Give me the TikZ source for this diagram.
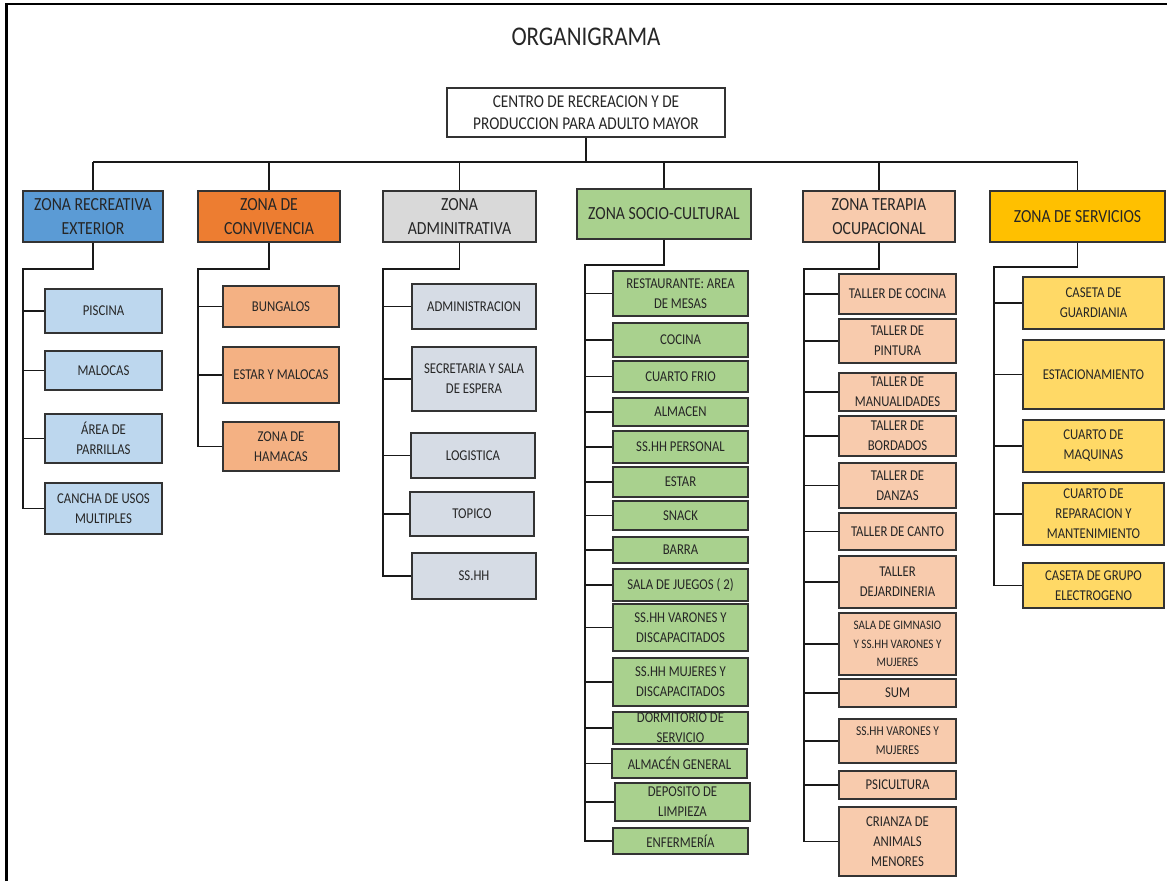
\documentclass[tikz,border=0pt]{standalone}
\usepackage{fontspec}
\setmainfont{Carlito}[FakeStretch=0.85]
\definecolor{azul}{HTML}{5B9BD5}
\definecolor{azulc}{HTML}{BDD7EE}
\definecolor{naranja}{HTML}{ED7D31}
\definecolor{naranjac}{HTML}{F4B183}
\definecolor{gris}{HTML}{D9D9D9}
\definecolor{grisc}{HTML}{D6DCE5}
\definecolor{verde}{HTML}{A9D18E}
\definecolor{salmon}{HTML}{F8CBAD}
\definecolor{oro}{HTML}{FFC000}
\definecolor{oroc}{HTML}{FFD966}
\newcommand{\letra}[2]{\fontsize{#1}{#2}\selectfont}

\tikzset{bx/.style={draw=black!80, line width=1.3pt, align=center, inner sep=1pt, text=black!85, font=\letra{15}{20}}}
\tikzset{zn/.style={bx, minimum height=51, font=\letra{18.5}{24}}}
\tikzset{ln/.style={line width=1.2pt, black!90}}

\begin{document}
\begin{tikzpicture}[x=1pt, y=-1pt]
\tikzstyle{c1}=[bx, fill=azulc, minimum width=117]
\tikzstyle{c2}=[bx, fill=naranjac, minimum width=116]
\tikzstyle{c3}=[bx, fill=grisc, minimum width=124]
\tikzstyle{c4}=[bx, fill=verde, minimum width=135]
\tikzstyle{c5}=[bx, fill=salmon, minimum width=117]
\tikzstyle{c6}=[bx, fill=oroc, minimum width=141]
\useasboundingbox (0,0) rectangle (1167,881);
\draw[line width=2.2pt] (6.5,881) -- (6.5,4) -- (1167,4);
\node[font=\letra{27}{30}, text=black!85] (tit) at (586,37) {ORGANIGRAMA};
\node[bx, font=\letra{18}{22}, minimum width=278, minimum height=49] (r) at (586,112.5)
  {CENTRO DE RECREACION Y DE\\PRODUCCION PARA ADULTO MAYOR};

% zonas
\node[zn, fill=azul, minimum width=140] (z1) at (93,216.5) {ZONA RECREATIVA\\EXTERIOR};
\node[zn, fill=naranja, minimum width=142] (z2) at (269,216.5) {ZONA DE\\CONVIVENCIA};
\node[zn, fill=gris, minimum width=153] (z3) at (459.5,216.5) {ZONA\\ADMINITRATIVA};
\node[zn, fill=verde, minimum width=174, minimum height=50] (z4) at (664,214) {ZONA SOCIO-CULTURAL};
\node[zn, fill=salmon, minimum width=152] (z5) at (879,216.5) {ZONA TERAPIA\\OCUPACIONAL};
\node[zn, fill=oro, minimum width=175] (z6) at (1077.5,216.5) {ZONA DE SERVICIOS};

\coordinate (b) at (0,162);
\draw[ln] (r) -- (r |- b);
\draw[ln] (z1 |- b) -- (z6 |- b);
\draw[ln] (z1.north) -- (z1 |- b) (z2.north) -- (z2 |- b) (z3.north) -- (z3 |- b)
  (z4.north) -- (z4 |- b) (z5.north) -- (z5 |- b) (z6.north) -- (z6 |- b);

% recreativa exterior
\node[c1, minimum height=44] (a1) at (103.5,311) {PISCINA};
\node[c1, minimum height=39] (a2) at (103.5,370.5) {MALOCAS};
\node[c1, minimum height=49] (a3) at (103.5,438.5) {ÁREA DE\\PARRILLAS};
\node[c1, minimum height=51] (a4) at (103.5,508.5) {CANCHA DE USOS\\MULTIPLES};
\coordinate (s1) at (23,269);
\draw[ln] (z1.south) |- (s1) -- (s1 |- a4.west) -- (a4.west);
\draw[ln] (s1 |- a1.west) -- (a1.west) (s1 |- a2.west) -- (a2.west) (s1 |- a3.west) -- (a3.west);

% convivencia
\node[c2, minimum height=41] (b1) at (281,306.5) {BUNGALOS};
\node[c2, minimum height=56] (b2) at (281,375) {ESTAR Y MALOCAS};
\node[c2, minimum height=49] (b3) at (281,446.5) {ZONA DE\\HAMACAS};
\coordinate (s2) at (198,269);
\draw[ln] (z2.south) |- (s2) -- (s2 |- b3.west) -- (b3.west);
\draw[ln] (s2 |- b1.west) -- (b1.west) (s2 |- b2.west) -- (b2.west);

% administrativa
\node[c3, minimum height=45] (c1) at (474,306.5) {ADMINISTRACION};
\node[c3, minimum height=64] (c2) at (474,379) {SECRETARIA Y SALA\\DE ESPERA};
\node[c3, minimum height=45] (c3) at (473,455.5) {LOGISTICA};
\node[c3, minimum height=44] (c4) at (472,514) {TOPICO};
\node[c3, minimum height=46] (c5) at (474,576) {SS.HH};
\coordinate (s3) at (383,269);
\draw[ln] (z3.south) |- (s3) -- (s3 |- c5.west) -- (c5.west);
\draw[ln] (s3 |- c1.west) -- (c1.west) (s3 |- c2.west) -- (c2.west) (s3 |- c3.west) -- (c3.west)
  (s3 |- c4.west) -- (c4.west);

% socio-cultural
\node[c4, minimum height=45] (d1) at (680.5,293.5) {RESTAURANTE: AREA\\DE MESAS};
\node[c4, minimum height=34] (d2) at (680.5,340) {COCINA};
\node[c4, minimum height=31] (d3) at (680.5,376.5) {CUARTO FRIO};
\node[c4, minimum height=28] (d4) at (680.5,412) {ALMACEN};
\node[c4, minimum height=32] (d5) at (680.5,447) {SS.HH PERSONAL};
\node[c4, minimum height=30] (d6) at (680.5,482) {ESTAR};
\node[c4, minimum height=29] (d7) at (680.5,515.5) {SNACK};
\node[c4, minimum height=26] (d8) at (680.5,550) {BARRA};
\node[c4, minimum height=32] (d9) at (680.5,585) {SALA DE JUEGOS ( 2)};
\node[c4, minimum height=47] (d10) at (680.5,627.5) {SS.HH VARONES Y\\DISCAPACITADOS};
\node[c4, minimum height=48] (d11) at (680.5,682) {SS.HH MUJERES Y\\DISCAPACITADOS};
\node[c4, minimum height=32] (d12) at (680.5,728) {DORMITORIO DE\\SERVICIO};
\node[c4, minimum height=29] (d13) at (679.5,763.5) {ALMACÉN GENERAL};
\node[c4, minimum height=38] (d14) at (682.5,802) {DEPOSITO DE\\LIMPIEZA};
\node[c4, minimum height=26] (d15) at (680.5,841) {ENFERMERÍA};
\coordinate (s4) at (585,265);
\draw[ln] (z4.south) |- (s4) -- (s4 |- d15.west) -- (d15.west);
\draw[ln] (s4 |- d1.west) -- (d1.west) (s4 |- d2.west) -- (d2.west) (s4 |- d3.west) -- (d3.west)
  (s4 |- d4.west) -- (d4.west) (s4 |- d5.west) -- (d5.west) (s4 |- d6.west) -- (d6.west)
  (s4 |- d7.west) -- (d7.west) (s4 |- d8.west) -- (d8.west) (s4 |- d9.west) -- (d9.west)
  (s4 |- d10.west) -- (d10.west) (s4 |- d11.west) -- (d11.west) (s4 |- d12.west) -- (d12.west)
  (s4 |- d13.west) -- (d13.west) (s4 |- d14.west) -- (d14.west);

% terapia ocupacional
\node[c5, minimum height=40] (e1) at (897.5,294) {TALLER DE COCINA};
\node[c5, minimum height=44] (e2) at (897.5,341) {TALLER DE\\PINTURA};
\node[c5, minimum height=38] (e3) at (897.5,392) {TALLER DE\\MANUALIDADES};
\node[c5, minimum height=40] (e4) at (897.5,436) {TALLER DE\\BORDADOS};
\node[c5, minimum height=45] (e5) at (897.5,485.5) {TALLER DE\\DANZAS};
\node[c5, minimum height=37] (e6) at (897.5,531.5) {TALLER DE CANTO};
\node[c5, minimum height=52] (e7) at (897.5,582) {TALLER\\DEJARDINERIA};
\node[c5, minimum height=62, font=\letra{13}{18.5}] (e8) at (897.5,644) {SALA DE GIMNASIO\\Y SS.HH VARONES Y\\MUJERES};
\node[c5, minimum height=28] (e9) at (897.5,693) {SUM};
\node[c5, minimum height=44, font=\letra{13.5}{19}] (e10) at (897.5,741) {SS.HH VARONES Y\\MUJERES};
\node[c5, minimum height=28] (e11) at (897.5,785) {PSICULTURA};
\node[c5, minimum height=69] (e12) at (897.5,841.5) {CRIANZA DE\\ANIMALS\\MENORES};
\coordinate (s5) at (804,269);
\draw[ln] (z5.south) |- (s5) -- (s5 |- e12.west) -- (e12.west);
\draw[ln] (s5 |- e1.west) -- (e1.west) (s5 |- e2.west) -- (e2.west) (s5 |- e3.west) -- (e3.west)
  (s5 |- e4.west) -- (e4.west) (s5 |- e5.west) -- (e5.west) (s5 |- e6.west) -- (e6.west)
  (s5 |- e7.west) -- (e7.west) (s5 |- e8.west) -- (e8.west) (s5 |- e9.west) -- (e9.west)
  (s5 |- e10.west) -- (e10.west) (s5 |- e11.west) -- (e11.west);

% servicios
\node[c6, minimum height=52] (f1) at (1093.5,303) {CASETA DE\\GUARDIANIA};
\node[c6, minimum height=69] (f2) at (1093.5,374.5) {ESTACIONAMIENTO};
\node[c6, minimum height=52] (f3) at (1093.5,446) {CUARTO DE\\MAQUINAS};
\node[c6, minimum height=62] (f4) at (1093.5,514) {CUARTO DE\\REPARACION Y\\MANTENIMIENTO};
\node[c6, minimum height=45] (f5) at (1093.5,585.5) {CASETA DE GRUPO\\ELECTROGENO};
\coordinate (s6) at (994,267);
\draw[ln] (z6.south) |- (s6) -- (s6 |- f5.west) -- (f5.west);
\draw[ln] (s6 |- f1.west) -- (f1.west) (s6 |- f2.west) -- (f2.west) (s6 |- f3.west) -- (f3.west)
  (s6 |- f4.west) -- (f4.west);
\end{tikzpicture}
\end{document}
